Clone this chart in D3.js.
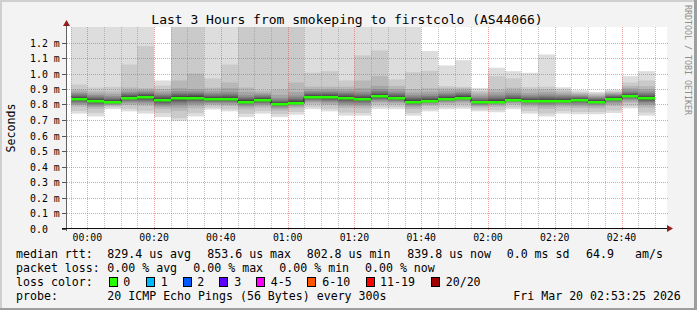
<!DOCTYPE html>
<html>
<head>
<meta charset="utf-8">
<script src="https://cdn.jsdelivr.net/npm/d3@7"></script>
<style>
body{margin:0;background:#f3f3f3}
svg{display:block}
text{font-family:"DejaVu Sans Mono",monospace}
</style>
</head>
<body>
<script>
// 5 minute steps, label = end of the step (Mar 20 2026)
const times=["00:00","00:05","00:10","00:15","00:20","00:25","00:30","00:35","00:40","00:45","00:50","00:55",
	"01:00","01:05","01:10","01:15","01:20","01:25","01:30","01:35","01:40","01:45","01:50","01:55",
	"02:00","02:05","02:10","02:15","02:20","02:25","02:30","02:35","02:40","02:45","02:50"]

// median rtt in us
const median=[836,823,816,843,849,829,843,845,836,836,819,829,803,812,849,849,842,836,854,842,819,825,838,845,814,819,829,825,825,825,829,819,838,854,840]

// 20 sorted pings per step, us
const pings=[
	[741,758,786,797,805,812,819,825,830,834,839,844,850,857,865,874,884,897,929,1500],
	[723,745,772,784,793,800,807,813,818,821,826,831,837,844,852,861,872,886,910,1450],
	[770,781,790,796,801,805,809,812,814,816,819,824,830,837,845,855,868,884,914,1420],
	[756,772,795,806,814,821,828,834,839,842,846,851,857,864,872,881,893,910,1058,1600],
	[741,760,790,803,812,820,828,835,841,846,852,857,863,870,877,885,894,905,1177,1700],
	[719,745,770,783,793,801,808,815,821,826,832,838,845,853,862,871,884,900,922,955],
	[695,712,760,780,795,806,816,825,833,839,846,852,859,867,876,887,905,955,1500,1800],
	[723,745,775,792,804,814,822,830,836,841,848,854,861,868,876,886,900,1000,1500,1800],
	[768,780,795,803,810,816,821,826,830,833,839,844,850,857,866,876,890,908,968,1500],
	[756,770,790,800,808,815,821,826,831,834,839,845,852,860,870,882,905,942,1058,1500],
	[719,740,768,782,792,800,806,811,815,818,822,827,833,840,849,860,880,909,1500,1800],
	[741,758,780,792,801,808,814,819,824,827,832,837,843,850,858,866,876,890,1500,1800],
	[719,738,760,772,781,788,794,798,801,803,806,810,816,823,832,843,862,896,1500,1800],
	[734,752,775,786,794,800,805,809,811,813,816,821,827,835,845,858,880,942,1500,1800],
	[770,785,805,814,822,829,835,840,844,847,852,857,863,870,878,887,898,915,1005,1500],
	[756,772,795,806,815,823,830,836,842,846,852,857,864,871,879,888,899,915,1015,1500],
	[728,748,778,792,803,812,820,827,833,838,845,851,858,866,875,885,897,915,955,1500],
	[728,745,775,790,801,810,818,825,830,834,839,845,852,860,870,883,905,955,1117,1500],
	[772,786,806,816,825,832,838,843,848,852,857,863,870,878,888,900,920,983,1149,1600],
	[770,784,802,811,818,824,830,835,838,840,845,850,857,865,874,885,900,920,962,1500],
	[728,745,770,783,793,800,806,811,815,817,822,827,834,842,851,862,877,900,1008,1500],
	[756,770,790,800,807,813,818,821,823,824,827,832,838,846,855,866,882,905,1018,1145],
	[770,782,800,810,817,823,828,832,835,837,840,845,851,858,866,876,890,905,918,1052],
	[772,785,805,815,823,830,835,839,842,844,847,852,858,865,873,882,893,905,914,1086],
	[756,768,782,790,797,802,806,809,811,813,816,820,826,833,842,852,864,878,890,907],
	[750,765,785,795,803,809,813,816,818,819,822,827,834,842,852,864,880,898,983,1037],
	[770,782,800,808,815,820,824,827,828,829,832,837,844,852,862,874,890,908,968,1015],
	[741,758,782,793,802,809,815,819,822,824,827,831,837,844,852,862,875,895,912,1005],
	[723,742,772,786,797,805,812,817,821,824,827,832,839,847,856,866,880,898,915,1123],
	[741,758,782,793,802,809,815,819,822,824,827,832,838,845,853,862,872,885,898,911],
	[737,752,778,790,800,808,815,820,824,827,831,835,840,846,852,858,865,872,880,892],
	[737,752,775,787,796,803,809,813,816,818,821,825,830,836,842,849,856,864,872,881],
	[745,762,790,802,812,819,825,830,834,837,840,844,849,854,860,866,872,879,885,896],
	[775,790,810,820,830,837,843,848,851,853,856,861,867,874,882,892,905,920,942,983],
	[728,748,780,795,806,815,822,828,833,837,843,849,856,864,873,884,898,918,955,1015]
]

const yTicks=[0,0.1,0.2,0.3,0.4,0.5,0.6,0.7,0.8,0.9,1.0,1.1,1.2]
const yTickLabels=["0.0","0.1 m","0.2 m","0.3 m","0.4 m","0.5 m","0.6 m","0.7 m","0.8 m","0.9 m","1.0 m","1.1 m","1.2 m"]
const xTickLabels=["00:00","00:20","00:40","01:00","01:20","01:40","02:00","02:20","02:40"]

const lossNames=["0","1","2","3","4-5","6-10","11-19","20/20"]
const lossColors=["#26ff00","#00b8ff","#0059ff","#5e00ff","#ff00ff","#ff5500","#ff0000","#a00000"]

const W=697,H=310
const svg=d3.select("body").append("svg").attr("width",W).attr("height",H)

// frame
svg.append("rect").attr("width",W).attr("height",H).attr("fill","#f3f3f3")
svg.append("rect").attr("x",0).attr("y",0).attr("width",W).attr("height",2).attr("fill","#cfcfcf")
svg.append("rect").attr("x",0).attr("y",0).attr("width",2).attr("height",H).attr("fill","#cfcfcf")
svg.append("rect").attr("x",W-3).attr("y",0).attr("width",3).attr("height",H).attr("fill","#9e9e9e")
svg.append("rect").attr("x",0).attr("y",H-2).attr("width",W).attr("height",2).attr("fill","#9e9e9e")

const day=d3.utcParse("%Y-%m-%d %H:%M")
const tEnd=times.map(t=>day("2026-03-20 "+t))
const t0=new Date(Date.UTC(2026,2,19,23,53,46)), t1=new Date(Date.UTC(2026,2,20,2,53,46))

const x=d3.scaleUtc().domain([t0,t1]).range([66.5,667.5])
const y=d3.scaleLinear().domain([0,1.3]).range([228.5,27])
const X0=66, Y0=228, XR=667, YT=27

// canvas
svg.append("rect").attr("x",X0).attr("y",YT).attr("width",XR-X0).attr("height",Y0-YT).attr("fill","#fff")

svg.append("clipPath").attr("id","plot").append("rect")
	.attr("x",X0+1).attr("y",YT).attr("width",XR-X0-1).attr("height",Y0-YT)

// smoke
const shades=d3.range(1,11).map(i=>{const c=Math.floor(190/10*(10-i))+50;return d3.rgb(c,c,c).formatHex()})
const smoke=svg.append("g").attr("clip-path","url(#plot)")
pings.forEach((p,i)=>{
	const xa=Math.round(x(d3.utcMinute.offset(tEnd[i],-5))), xb=Math.round(x(tEnd[i]))
	for(let k=0;k<10;k++){
		const lo=p[k]/1000, hi=p[19-k]/1000
		smoke.append("rect").attr("x",xa).attr("width",xb-xa)
			.attr("y",y(hi)).attr("height",y(lo)-y(hi))
			.attr("fill",shades[k])
	}
})

// grid
const grid=svg.append("g")
const major=xTickLabels.map(t=>day("2026-03-20 "+t))
const minor=d3.utcMinute.every(5).range(t0,t1).filter(t=>!major.some(m=>+m==+t))
grid.selectAll(".vmin").data(minor).join("line")
	.attr("x1",d=>Math.round(x(d))+0.5).attr("x2",d=>Math.round(x(d))+0.5)
	.attr("y1",YT).attr("y2",Y0)
	.attr("stroke","rgba(143,143,143,0.55)").attr("stroke-dasharray","1,1")
grid.selectAll(".vmaj").data(major).join("line")
	.attr("x1",d=>Math.round(x(d))+0.5).attr("x2",d=>Math.round(x(d))+0.5)
	.attr("y1",YT).attr("y2",Y0+2)
	.attr("stroke","rgba(222,80,80,0.55)").attr("stroke-dasharray","1,1")
grid.selectAll(".hmaj").data(yTicks.slice(1)).join("line")
	.attr("x1",X0-3).attr("x2",XR+1)
	.attr("y1",d=>Math.round(y(d))+0.5).attr("y2",d=>Math.round(y(d))+0.5)
	.attr("stroke","rgba(222,80,80,0.55)").attr("stroke-dasharray","1,1")
grid.selectAll(".ytk").data(yTicks).join("line")
	.attr("x1",X0-4).attr("x2",X0)
	.attr("y1",d=>Math.round(y(d))+0.5).attr("y2",d=>Math.round(y(d))+0.5)
	.attr("stroke","#555")

// median
const steps=[]
median.forEach((m,i)=>{steps.push([d3.utcMinute.offset(tEnd[i],-5),m/1000]);})
steps.push([tEnd[tEnd.length-1],median[median.length-1]/1000])
svg.append("path")
	.attr("d",d3.line().x(d=>Math.round(x(d[0]))).y(d=>Math.round(y(d[1]))+0.5).curve(d3.curveStepAfter)(steps))
	.attr("fill","none").attr("stroke","#202020").attr("stroke-width",1)
svg.append("g").selectAll("rect").data(median).join("rect")
	.attr("x",(d,i)=>Math.round(x(d3.utcMinute.offset(tEnd[i],-5))))
	.attr("width",(d,i)=>Math.round(x(tEnd[i]))-Math.round(x(d3.utcMinute.offset(tEnd[i],-5))))
	.attr("y",d=>Math.round(y(d/1000))-1).attr("height",2.5)
	.attr("fill",lossColors[0])

// axes
svg.append("line").attr("x1",X0+0.5).attr("x2",X0+0.5).attr("y1",Y0+3).attr("y2",YT-3)
	.attr("stroke","#606060")
svg.append("line").attr("x1",X0-4).attr("x2",XR+2).attr("y1",Y0+0.5).attr("y2",Y0+0.5)
	.attr("stroke","#101010")
svg.append("path").attr("d",`M${X0+0.5},${YT-7} L${X0+4},${YT-1} L${X0-3},${YT-1} Z`).attr("fill","#8e1f1f")
svg.append("path").attr("d",`M${XR+6},${Y0+0.5} L${XR},${Y0-3} L${XR},${Y0+4} Z`).attr("fill","#8e1f1f")

// tick labels
svg.append("g").selectAll("text").data(major).join("text")
	.attr("x",d=>x(d)).attr("y",241).attr("text-anchor","middle")
	.attr("font-size","9.8px").attr("fill","#000")
	.text((d,i)=>xTickLabels[i])
svg.append("g").selectAll("text").data(yTicks).join("text")
	.attr("x",30).attr("y",d=>Math.round(y(d))+3.8)
	.attr("font-size","9.9px").attr("fill","#000")
	.text((d,i)=>yTickLabels[i])

// titles
svg.append("text").attr("x",347).attr("y",24).attr("text-anchor","middle")
	.attr("font-size","13px").text("Last 3 Hours from smokeping to firstcolo (AS44066)")
svg.append("text").attr("transform","translate(15,128) rotate(-90)").attr("text-anchor","middle")
	.attr("font-size","11.6px").text("Seconds")
svg.append("text").attr("transform","translate(685,5) rotate(90)")
	.attr("font-size","8.3px").attr("fill","#8e8e8e").text("RRDTOOL / TOBI OETIKER")

// legend
const fs="11.6px"
const rows=[
	[[16,"median rtt:"],[107.3,"829.4 us avg"],[207.3,"853.6 us max"],[306.7,"802.8 us min"],[407.3,"839.8 us now"],[506.7,"0.0 ms sd"],[586,"64.9"],[635,"am/s"]],
	[[16,"packet loss:"],[107.3,"0.00 % avg"],[193.3,"0.00 % max"],[279.3,"0.00 % min"],[365,"0.00 % now"]],
	[[16,"loss color:"]],
	[[16,"probe:"],[107.3,"20 ICMP Echo Pings (56 Bytes) every 300s"],[513.3,"Fri Mar 20 02:53:25 2026"]]
]
const base=[257.5,271.5,285.5,299.5]
rows.forEach((r,j)=>{
	r.forEach(c=>{
		svg.append("text").attr("x",c[0]).attr("y",base[j]).attr("font-size",fs).attr("xml:space","preserve").text(c[1])
	})
})
const swX=[108.5,146,182.7,219.3,256,307,365.7,430.7]
const lbX=[123.3,160.7,197.3,234.3,270.7,322.3,380,445.7]
lossNames.forEach((n,i)=>{
	svg.append("rect").attr("x",Math.round(swX[i])+0.5).attr("y",277.5).attr("width",8).attr("height",9)
		.attr("fill",lossColors[i]).attr("stroke","#000")
	svg.append("text").attr("x",lbX[i]).attr("y",base[2]).attr("font-size",fs).text(n)
})
</script>
</body>
</html>
